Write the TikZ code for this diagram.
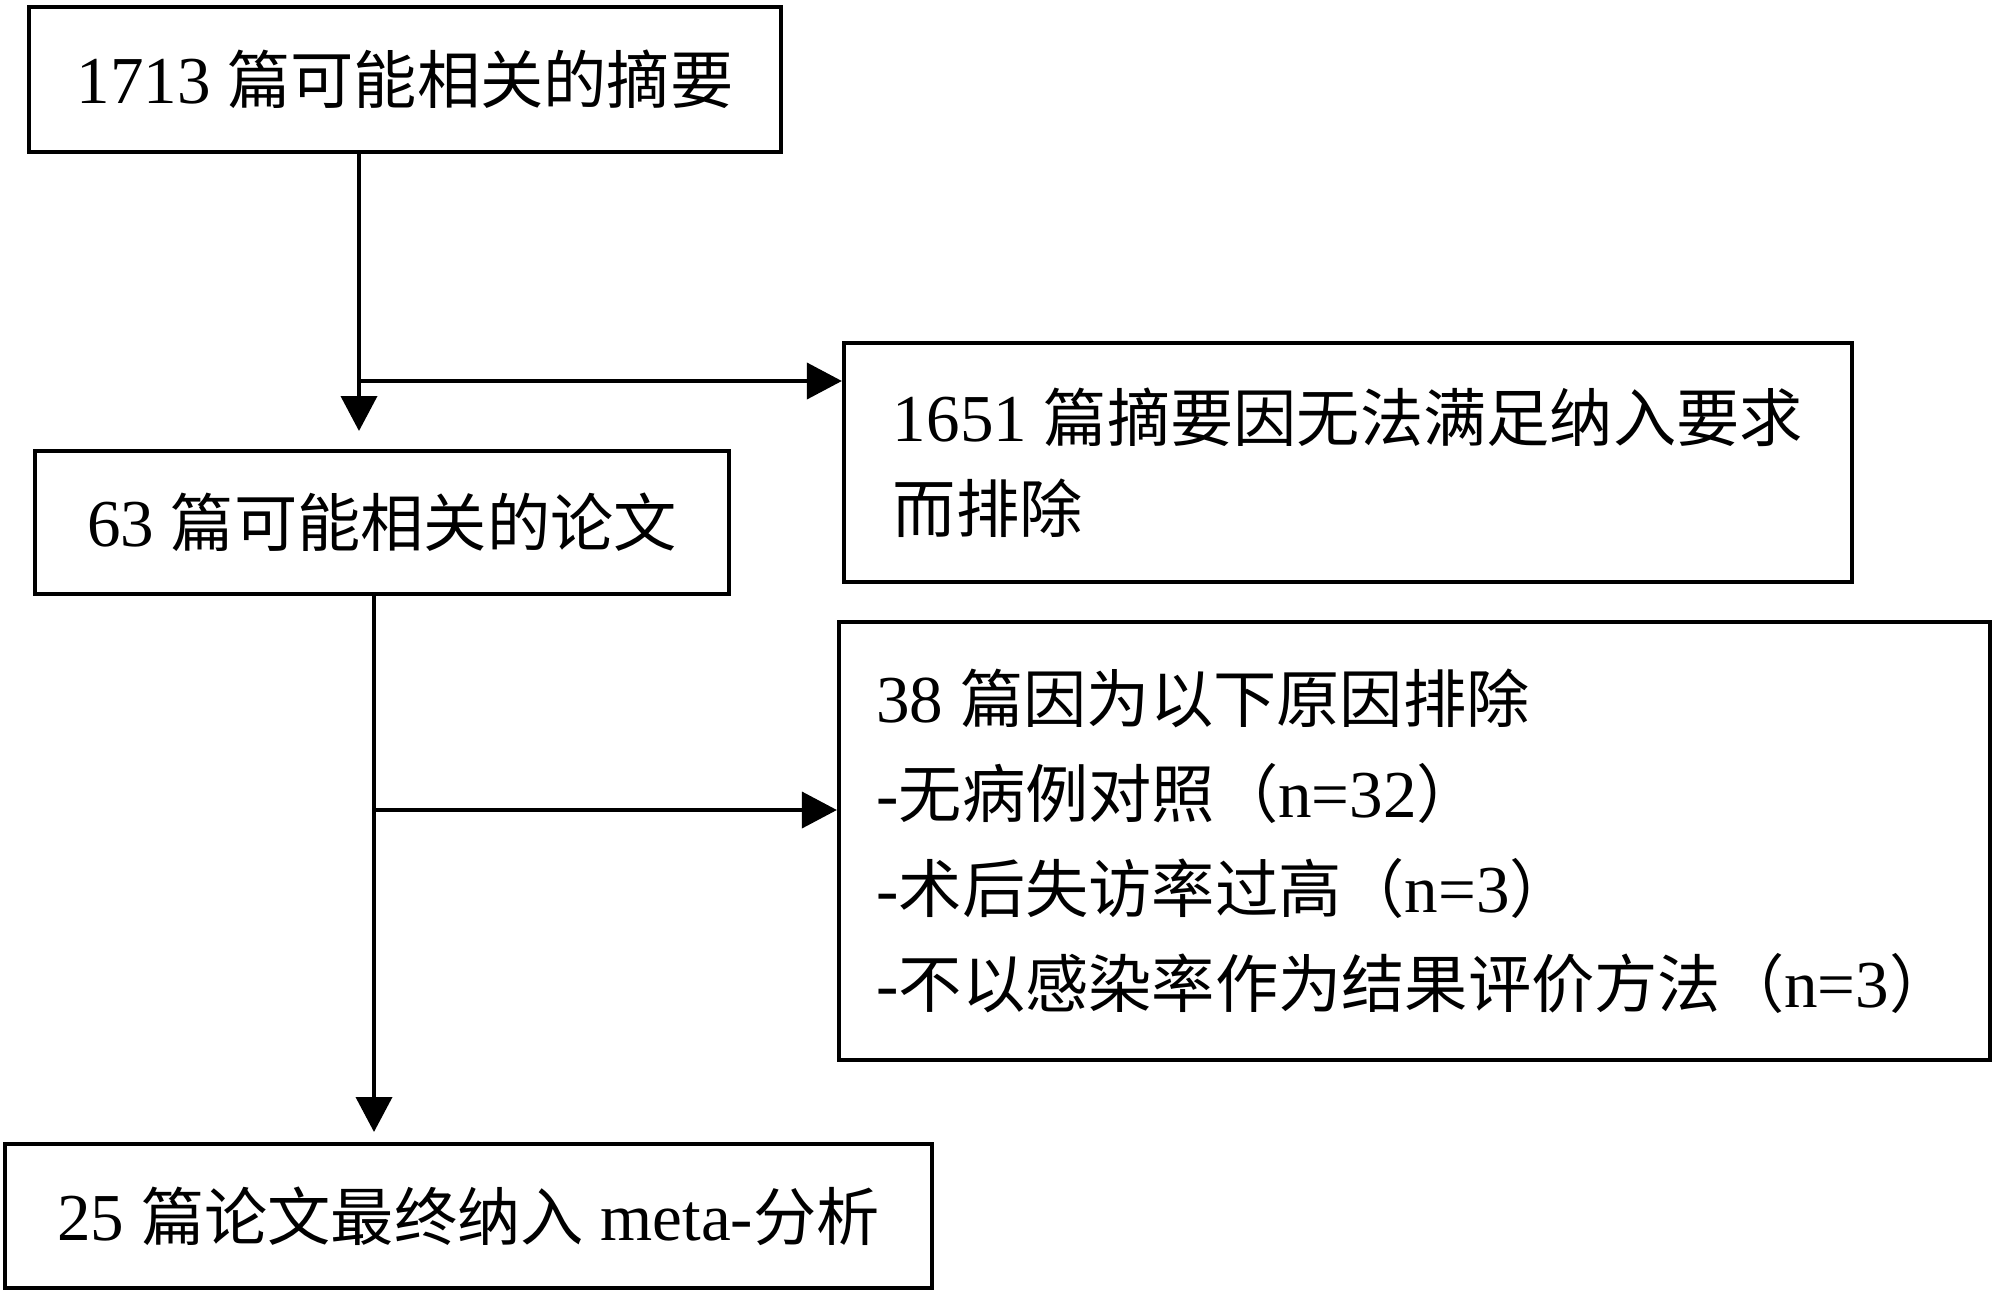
\documentclass[tikz,border=0pt]{standalone}
\usepackage{fontspec}
\setmainfont{Liberation Serif}[Scale=1.06]
\newfontfamily\cjk{Noto Sans CJK SC}
\usetikzlibrary{arrows.meta}
\tikzset{
  box/.style={draw, line width=1.2pt, inner sep=0pt, font=\fontsize{18}{27}\selectfont},
  arrow/.style={line width=1.1pt, -{Triangle[length=0.35cm,width=0.36cm]}}
}

\begin{document}
\begin{tikzpicture}
\useasboundingbox (0,0) rectangle (20,-12.93);
\node[box, minimum width=7.52cm, minimum height=1.45cm] (abstracts) at (4.05,-0.795) {1713 {\cjk 篇可能相关的摘要}};
\node[box, minimum width=6.94cm, minimum height=1.43cm] (papers) at (3.82,-5.225) {63 {\cjk 篇可能相关的论文}};
\node[box, minimum width=9.27cm, minimum height=1.44cm] (included) at (4.685,-12.16) {25 {\cjk 篇论文最终纳入} meta-{\cjk 分析}};
\node[box, minimum width=10.08cm, minimum height=2.39cm, align=left, font=\fontsize{18}{26}\selectfont] (excluded1) at (13.48,-4.625)
  {1651 {\cjk 篇摘要因无法满足纳入要求}\\{\cjk 而排除}};
\node[box, minimum width=11.51cm, minimum height=4.38cm, align=left] (excluded2) at (14.145,-8.41)
  {38 {\cjk 篇因为以下原因排除}\\
   -{\cjk 无病例对照（}n=32{\cjk ）}\\
   -{\cjk 术后失访率过高（}n=3{\cjk ）}\\
   -{\cjk 不以感染率作为结果评价方法（}n=3{\cjk ）}};

% branch points and arrow ends
\coordinate (split1) at (3.59,-3.81);
\coordinate (gap1) at (3.59,-4.31);
\coordinate (split2) at (3.74,-8.10);
\coordinate (gap2) at (3.74,-11.32);

\draw[arrow] (abstracts.south -| split1) -- (gap1);
\draw[arrow] (split1) -- (split1 -| excluded1.west);
\draw[arrow] (papers.south -| split2) -- (gap2);
\draw[arrow] (split2) -- (split2 -| excluded2.west);
\end{tikzpicture}
\end{document}
